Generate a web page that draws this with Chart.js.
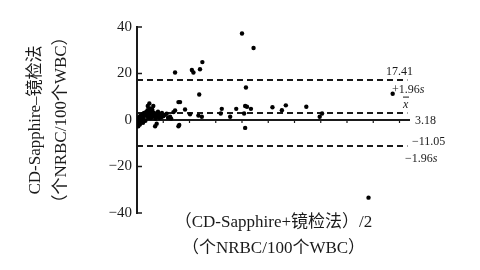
<!DOCTYPE html>
<html>
<head>
<meta charset="utf-8">
<script src="https://cdn.jsdelivr.net/npm/chart.js@4/dist/chart.umd.min.js"></script>
<style>
  html, body { margin: 0; padding: 0; background: #fff; }
  #chart { display: block; }
</style>
</head>
<body>
<canvas id="chart" width="480" height="270"></canvas>
<script>
// (CD-Sapphire + 镜检法)/2  and  CD-Sapphire – 镜检法
const meanValues = [
    40.0, 44.4, 14.5, 20.9, 21.5, 24.9, 24.0, 23.7, 41.5, 15.8,
    16.4, 4.7, 6.2, 18.3, 13.9, 12.6, 20.2, 23.4, 24.7, 32.3,
    31.9, 35.5, 37.8, 41.2, 41.9, 43.4, 41.2, 16.1, 6.9, 1.1,
    10.0, 8.1, 40.8, 51.6, 55.2, 56.7, 64.5, 69.6, 70.5, 97.4,
    88.2, 11.3, 14.5, 0.5, 4.1, 5.0, 7.5, 15.8,
    0.3, 0.5, 0.8, 1.0, 1.2, 1.5, 1.7, 2.0, 2.2, 2.5,
    2.7, 3.0, 3.2, 3.5, 3.7, 4.0, 4.2, 4.5, 4.8, 5.0,
    5.3, 5.5, 5.8, 6.0, 6.3, 6.6, 7.0, 7.3, 7.6, 8.0,
    8.4, 8.8, 9.2, 0.6, 2.3, 9.5, 10.5, 11.8, 13.0
];
const diffValues = [
    37.2, 31.0, 20.4, 21.5, 20.4, 24.9, 21.8, 11.0, 14.0, 7.7,
    7.7, 7.1, 6.0, 4.5, 3.4, 1.4, 2.5, 1.9, 1.4, 4.8,
    2.8, 1.4, 4.8, 6.0, 5.7, 4.8, -3.4, -2.1, -2.7, -1.9,
    1.6, 2.4, 2.8, 5.5, 4.2, 6.3, 5.7, 1.4, 2.8, 11.3,
    -33.4, 2.7, 4.1, -2.7, 6.0, 5.0, -1.6, -2.7,
    0.2, -0.8, 0.9, 1.5, 0.3, 2.0, -0.5, 1.0, 2.6, 0.5,
    3.0, 1.8, -0.3, 3.5, 2.2, 4.2, 1.0, 3.0, 2.0, 3.8,
    0.8, 2.6, 4.5, 1.5, 3.2, 2.0, 0.6, 2.8, 1.4, 3.6,
    0.9, 2.1, 1.2, -1.5, -1.2, 3.0, 2.2, 1.0, 0.6
];
const upperLimit = 17.41;
const meanDiff = 3.18;
const lowerLimit = -11.05;
const yTicks = [40, 20, 0, -20, -40];
const xTicks = [10, 20, 30, 40, 50, 60, 70, 80, 90, 100];

const ink = '#1a1a1a';
const serif = '"Liberation Serif", "Noto Sans CJK SC", serif';

let points = meanValues.map((m, i) => ({x: m, y: diffValues[i]}));

const linesPlugin = {
    id: 'baLines',
    beforeDatasetsDraw(chart) {
        const ctx = chart.ctx;
        const xs = chart.scales.x, ys = chart.scales.y;
        const left = chart.chartArea.left;
        const right = chart.chartArea.right;
        ctx.save();
        ctx.strokeStyle = ink;
        // limits of agreement + mean difference
        ctx.lineWidth = 2;
        ctx.setLineDash([6, 4]);
        [upperLimit, meanDiff, lowerLimit].forEach(v => {
            let y = Math.round(ys.getPixelForValue(v));
            ctx.beginPath();
            ctx.moveTo(left, y);
            ctx.lineTo(xs.getPixelForValue(103), y);
            ctx.stroke();
        });
        ctx.setLineDash([]);
        // zero line with small ticks
        let y0 = ys.getPixelForValue(0);
        ctx.beginPath();
        ctx.moveTo(left, y0);
        ctx.lineTo(right, y0);
        ctx.stroke();
        ctx.lineWidth = 1.2;
        xTicks.forEach(t => {
            let x = xs.getPixelForValue(t);
            ctx.beginPath();
            ctx.moveTo(x, y0);
            ctx.lineTo(x, y0 + 3);
            ctx.stroke();
        });
        // inward y ticks
        ctx.lineWidth = 1.5;
        yTicks.forEach(t => {
            let y = ys.getPixelForValue(t);
            ctx.beginPath();
            ctx.moveTo(left, y);
            ctx.lineTo(left + 5, y);
            ctx.stroke();
        });
        ctx.restore();
    },
    afterDatasetsDraw(chart) {
        const ctx = chart.ctx;
        const ys = chart.scales.y;
        const right = chart.chartArea.right;
        const font = '12px "Liberation Serif", serif';
        const italic = 'italic 12px "Liberation Serif", serif';
        ctx.save();
        ctx.fillStyle = ink;
        ctx.textBaseline = 'middle';
        ctx.textAlign = 'left';
        ctx.font = font;
        let yu = ys.getPixelForValue(upperLimit);
        ctx.fillText(upperLimit.toFixed(2), right - 24, yu - 8);
        ctx.fillText('+1.96', right - 18, yu + 10);
        let w = ctx.measureText('+1.96').width;
        ctx.font = italic;
        ctx.fillText('s', right - 18 + w, yu + 10);

        let ym = ys.getPixelForValue(meanDiff);
        ctx.fillText('x', right - 7, ym - 8);
        ctx.strokeStyle = ink;
        ctx.lineWidth = 1;
        ctx.beginPath();
        ctx.moveTo(right - 7, ym - 15.5);
        ctx.lineTo(right - 1, ym - 15.5);
        ctx.stroke();
        ctx.font = font;
        ctx.fillText(meanDiff.toFixed(2), right + 5, ys.getPixelForValue(0) + 1);

        let yl = ys.getPixelForValue(lowerLimit);
        ctx.fillText('\u2212' + Math.abs(lowerLimit).toFixed(2), right + 2, yl - 4);
        ctx.fillText('\u22121.96', right - 5, yl + 13);
        w = ctx.measureText('\u22121.96').width;
        ctx.font = italic;
        ctx.fillText('s', right - 5 + w, yl + 13);
        ctx.restore();
    }
};

new Chart(document.getElementById('chart'), {
    type: 'scatter',
    data: {
        datasets: [{
            data: points,
            backgroundColor: '#000',
            borderWidth: 0,
            pointRadius: 2.2,
            pointHoverRadius: 2.2
        }]
    },
    options: {
        responsive: false,
        animation: false,
        devicePixelRatio: 1,
        layout: {
            padding: {left: 0, top: 27, right: 70, bottom: 0}
        },
        plugins: {
            legend: {display: false},
            tooltip: {enabled: false}
        },
        scales: {
            x: {
                type: 'linear',
                min: 0,
                max: 104,
                grid: {display: false, drawTicks: false},
                border: {display: false},
                ticks: {display: false},
                afterFit: (s) => { s.height = 57; },
                title: {
                    display: true,
                    text: ['（CD-Sapphire+镜检法）/2', '（个NRBC/100个WBC）'],
                    color: ink,
                    font: {family: serif, size: 17, lineHeight: 1.55},
                    padding: {top: 0, bottom: 8}
                }
            },
            y: {
                min: -40,
                max: 40,
                grid: {display: false, drawTicks: false},
                border: {display: true, color: ink, width: 2},
                afterFit: (s) => { s.width = 137; },
                ticks: {
                    stepSize: 20,
                    color: ink,
                    padding: 5,
                    font: {family: serif, size: 15},
                    callback: (v) => v < 0 ? '\u2212' + Math.abs(v) : String(v)
                },
                title: {
                    display: true,
                    text: ['CD-Sapphire\u2013镜检法', '（个NRBC/100个WBC）'],
                    color: ink,
                    font: {family: serif, size: 17, lineHeight: 1.55},
                    padding: {top: 22, bottom: 0}
                }
            }
        }
    },
    plugins: [linesPlugin]
});
</script>
</body>
</html>
